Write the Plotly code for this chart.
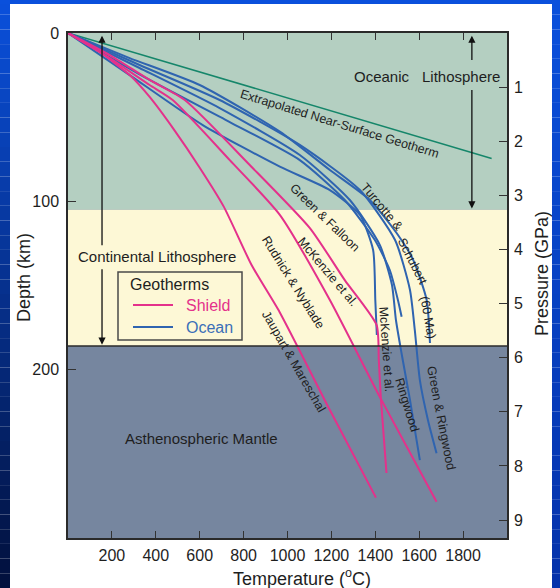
import plotly.graph_objects as go

# ---------------- data (temperature in °C, depth in km) ----------------
green_T = [0, 1930]
green_d = [0, 74.5]

# shield geotherms
jm_T = [0, 144, 281, 372, 486, 600, 709, 837, 965, 1193, 1403]
jm_d = [0, 11.3, 25, 38, 58, 80, 103, 138, 166, 224, 276]

rn_T = [0, 190, 372, 477, 737, 965, 1193, 1421, 1679]
rn_d = [0, 14.9, 30.9, 39.8, 75.5, 108, 158.6, 216.3, 278.5]

mks_T = [0, 190, 372, 532, 828, 1102, 1261, 1406, 1416, 1425, 1451]
mks_d = [0, 13.1, 27.9, 39.8, 78.4, 115.9, 146.8, 173.5, 194.3, 216.3, 261.4]

# ocean geotherms
ts_T = [0, 281, 600, 965, 1193, 1375, 1497, 1573, 1634, 1649]
ts_d = [0, 14.9, 30.9, 58.6, 81.4, 99.2, 118.8, 134.9, 158.6, 184.2]

gr_T = [0, 326, 691, 1056, 1330, 1490, 1558, 1580, 1603, 1640, 1679]
gr_d = [0, 19, 39.8, 66.5, 93.3, 123, 152.7, 176.5, 206.2, 230, 249.6]

rw_T = [0, 326, 691, 1056, 1284, 1421, 1476, 1494, 1521, 1558, 1603]
rw_d = [0, 20.8, 44.6, 72.5, 99.2, 126, 149.7, 170.5, 191.3, 218, 253.7]

gf_T = [0, 372, 737, 1056, 1261, 1398, 1466, 1503, 1520]
gf_d = [0, 27.9, 52.9, 75.5, 99.2, 123, 140.8, 158.6, 168.6]

mko_T = [0, 281, 614, 965, 1193, 1330, 1390, 1400, 1407]
mko_d = [0, 25, 54.7, 79.4, 93.3, 108.1, 128.9, 158.6, 179.4]

# layer boundaries (km)
oceanic_base = 105
continental_base = 186
depth_max = 300
km_per_gpa = 32.15

x_ticks = [200, 400, 600, 800, 1000, 1200, 1400, 1600, 1800]
depth_ticks = [0, 100, 200]
pressure_ticks = [1, 2, 3, 4, 5, 6, 7, 8, 9]

legend_title = "Geotherms"
legend_names = ["Shield", "Ocean"]

# ---------------- styles ----------------
PINK = "#e4318b"
BLUE = "#2f64b0"
OCEAN_TXT = "#3a6fb8"
GREEN_LINE = "#15866a"
FONT = "Liberation Sans, Arial, sans-serif"
TXT = "#1e1e1e"

fig = go.Figure()

def geotherm(T, d, color):
    fig.add_trace(go.Scatter(
        x=T, y=d, mode="lines", line=dict(color=color, width=2, shape="spline", smoothing=0.6),
        showlegend=False, hoverinfo="skip"))

fig.add_trace(go.Scatter(x=green_T, y=green_d, mode="lines",
                         line=dict(color=GREEN_LINE, width=1.5), showlegend=False, hoverinfo="skip"))
for T, d in [(ts_T, ts_d), (gr_T, gr_d), (rw_T, rw_d), (gf_T, gf_d), (mko_T, mko_d)]:
    geotherm(T, d, BLUE)
for T, d in [(jm_T, jm_d), (rn_T, rn_d), (mks_T, mks_d)]:
    geotherm(T, d, PINK)

# ---------------- layered background ----------------
bands = [(0, oceanic_base, "#b4cfc1"), (oceanic_base, continental_base, "#fdf8d6"),
         (continental_base, depth_max, "#76869f")]
for y0, y1, c in bands:
    fig.add_shape(type="rect", xref="x", yref="y", x0=0, x1=2000, y0=y0, y1=y1,
                  fillcolor=c, line_width=0, layer="below")
fig.add_shape(type="line", xref="x", yref="y", x0=0, x1=2000, y0=continental_base,
              y1=continental_base, line=dict(color="#2a2a2a", width=1.5))

# pixel helpers for paper-anchored decorations
L, T_, H, W = 68, 33, 505, 439
def px(x):
    return (x - L) / W
def py(y):
    return (T_ + H - y) / H

# blue slide border around the white panel
def lerp(c1, c2, t):
    return "#%02x%02x%02x" % tuple(int(round(a + (b - a) * t)) for a, b in zip(c1, c2))

top_c, bot_c = (10, 80, 220), (2, 16, 60)
n = 40
for i in range(n):
    y0 = 588 * i / n
    y1 = 588 * (i + 1) / n
    c = lerp(top_c, bot_c, (i + 0.5) / n)
    fig.add_shape(type="rect", xref="paper", yref="paper", x0=px(0), x1=px(10),
                  y0=py(y1), y1=py(y0), fillcolor=c, line_width=0, layer="below")
    c2 = lerp(top_c, (5, 50, 170), (i + 0.5) / n)
    fig.add_shape(type="rect", xref="paper", yref="paper", x0=px(552), x1=px(560),
                  y0=py(y1), y1=py(y0), fillcolor=c2, line_width=0, layer="below")
fig.add_shape(type="rect", xref="paper", yref="paper", x0=px(0), x1=px(560),
              y0=py(4), y1=py(0), fillcolor="#0a50dc", line_width=0, layer="below")

# ---------------- arrows ----------------
def arrow(x, head, tail):
    fig.add_annotation(x=x, y=head, ax=x, ay=tail, xref="x", yref="y", axref="x", ayref="y",
                       text="", showarrow=True, arrowhead=2, arrowsize=1.1, arrowwidth=1.3,
                       arrowcolor="#111", standoff=0, startstandoff=0)

arrow(1840, 1.6, 17)
arrow(1840, oceanic_base - 0.8, 33)
arrow(155, 1.6, 127)
arrow(155, continental_base - 0.8, 139.5)

# ---------------- text ----------------
def label(text, x, y, size=12.5, angle=0, color=TXT):
    fig.add_annotation(x=x, y=y, xref="x", yref="y", text=text, showarrow=False,
                       textangle=angle, xanchor="center", yanchor="middle",
                       font=dict(family=FONT, size=size, color=color))

label("Oceanic", 1430, 26.1, 15)
label("Lithosphere", 1792, 26.1, 15)
label("Continental Lithosphere", 404, 133, 15)
label("Asthenospheric Mantle", 609, 241, 15)

label("Extrapolated Near-Surface Geotherm", 1238, 54.1, 12.5, 17)
label("Green & Falloon", 1170, 110, 12.5, 44)
label("Turcotte &", 1430, 103.4, 12.5, 50)
label("Schubert", 1571, 136, 12.5, 63)
label("(60 Ma)", 1640, 169.3, 12.5, 80)
label("McKenzie et al.", 1184, 142, 12.5, 50)
label("Rudnick & Nyblade", 1024, 148, 12.5, 58)
label("Jaupart & Mareschal", 1029, 195.5, 12.5, 60)
label("McKenzie et al.", 1448, 188, 12.5, 86)
label("Ringwood", 1544, 221, 12.5, 73)
label("Green & Ringwood", 1699, 228.8, 12.5, 79)

def paper_text(text, x, y, size, angle=0, color=TXT, xanchor="center"):
    fig.add_annotation(x=px(x), y=py(y), xref="paper", yref="paper", text=text,
                       showarrow=False, textangle=angle, xanchor=xanchor, yanchor="middle",
                       font=dict(family=FONT, size=size, color=color))

# axis titles
paper_text("Depth (km)", 24, 278, 18, -90)
paper_text("Pressure (GPa)", 542, 274, 18, -90)
paper_text("Temperature (<sup>o</sup>C)", 302, 577, 18)

# legend box drawn on the plot
fig.add_shape(type="rect", xref="paper", yref="paper", x0=px(118), x1=px(242),
              y0=py(340), y1=py(272), fillcolor="#fdf8d6",
              line=dict(color="#4a4a4a", width=1.5))
paper_text(legend_title, 128, 284, 16, xanchor="left")
for i, (nm, lc, tc) in enumerate(zip(legend_names, [PINK, BLUE], [PINK, OCEAN_TXT])):
    yy = 305 + 22 * i
    fig.add_shape(type="line", xref="paper", yref="paper", x0=px(133), x1=px(173),
                  y0=py(yy), y1=py(yy), line=dict(color=lc, width=2))
    paper_text(nm, 184, yy, 16, color=tc, xanchor="left")

axis_font = dict(family=FONT, size=16, color=TXT)
fig.update_layout(
    width=560, height=588,
    margin=dict(l=L, r=560 - L - W, t=T_, b=588 - T_ - H),
    paper_bgcolor="white", plot_bgcolor="#76869f",
    xaxis=dict(range=[0, 2000], tickvals=x_ticks, ticks="inside", ticklen=7, tickwidth=1.2,
               tickcolor="#333", showline=True, linecolor="#2a2a2a", linewidth=1.5,
               mirror="ticks", showgrid=False, zeroline=False, tickfont=axis_font,
               ticklabelstandoff=2),
    yaxis=dict(range=[depth_max, 0], tickvals=depth_ticks, ticks="inside", ticklen=8,
               tickwidth=1.2, tickcolor="#333", showline=True, linecolor="#2a2a2a",
               linewidth=1.5, mirror=True, showgrid=False, zeroline=False,
               tickfont=axis_font, ticklabelstandoff=4),
    yaxis2=dict(range=[depth_max / km_per_gpa, 0], tickvals=pressure_ticks, overlaying="y",
                side="right", ticks="inside", ticklen=8, tickwidth=1.2, tickcolor="#333",
                showline=False, showgrid=False, zeroline=False, tickfont=axis_font,
                ticklabelstandoff=6),
    showlegend=False,
)
# invisible trace to attach the pressure axis
fig.add_trace(go.Scatter(x=[None], y=[None], yaxis="y2", showlegend=False, hoverinfo="skip"))

fig.write_html("out.html")
